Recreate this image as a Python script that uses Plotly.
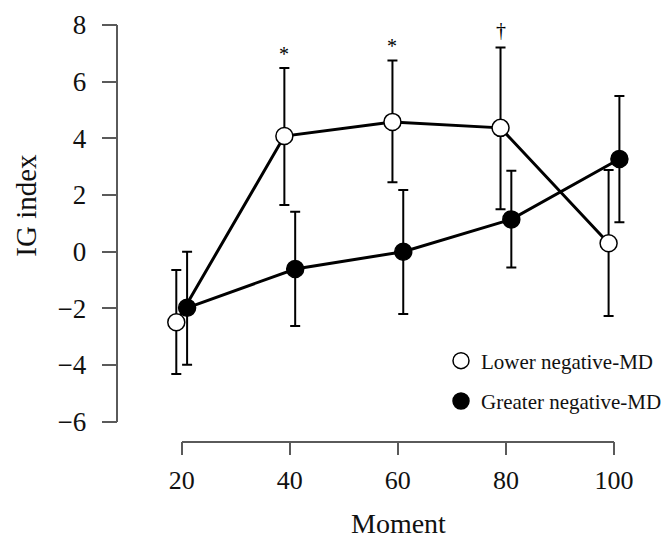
import plotly.graph_objects as go

# ---------------- data ----------------
moments = [20, 40, 60, 80, 100]

lower_mean = [-2.49, 4.08, 4.58, 4.37, 0.30]
lower_upper = [-0.65, 6.48, 6.75, 7.21, 2.88]
lower_lower = [-4.32, 1.65, 2.45, 1.50, -2.27]

greater_mean = [-1.98, -0.61, 0.00, 1.14, 3.27]
greater_upper = [0.00, 1.41, 2.18, 2.86, 5.49]
greater_lower = [-3.99, -2.62, -2.20, -0.56, 1.04]

sig_labels = ["", "*", "*", "\u2020", ""]

x_ticks = [20, 40, 60, 80, 100]
y_ticks = [-6, -4, -2, 0, 2, 4, 6, 8]

series_names = ["Lower negative-MD", "Greater negative-MD"]

# ---------------- geometry (pixels) ----------------
# The page has an 8 px body margin; the figure is sized to fill the window.
PAGE_OFF = 8
W, H = 670 - PAGE_OFF, 542 - PAGE_OFF
FONT = "Liberation Serif, Times New Roman, serif"
AX_COL = "#5a5a5a"
INK = "#111111"

def fx(px):  # window px -> paper x
    return (px - PAGE_OFF) / W

def fy(py):  # window px -> paper y
    return 1 - (py - PAGE_OFF) / H

# window targets: x 20 -> 181.7, 100 -> 614 ; y 8 -> 25, -6 -> 421.7
px_x20, px_x100 = 181.7, 614.0
px_y8, px_ym6 = 25.0, 421.7
x_scale = (px_x100 - px_x20) / 80.0
y_scale = (px_ym6 - px_y8) / 14.0
x_range = [20 - (px_x20 - PAGE_OFF) / x_scale, 20 + (670 - px_x20) / x_scale]
y_range = [8 - (542 - px_y8) / y_scale, 8 + (px_y8 - PAGE_OFF) / y_scale]

dodge = 1.0
x_low = [m - dodge for m in moments]
x_high = [m + dodge for m in moments]

fig = go.Figure()

def add_series(xs, mean, up, lo, fill, name):
    fig.add_trace(go.Scatter(
        x=xs, y=mean, mode="lines+markers", showlegend=False,
        line=dict(color="black", width=3),
        marker=dict(symbol="circle", size=17, color=fill,
                    line=dict(color="black", width=1.5)),
        error_y=dict(type="data", symmetric=False,
                     array=[u - m for u, m in zip(up, mean)],
                     arrayminus=[m - l for m, l in zip(mean, lo)],
                     color="black", thickness=2, width=5),
        cliponaxis=False,
    ))
    fig.add_trace(go.Scatter(
        x=[None], y=[None], mode="markers", name=name,
        legendgroup=name,
        marker=dict(symbol="circle", size=17, color=fill,
                    line=dict(color="black", width=1.5)),
    ))

add_series(x_low, lower_mean, lower_upper, lower_lower, "white", series_names[0])
add_series(x_high, greater_mean, greater_upper, greater_lower, "black", series_names[1])

# dummy trace for the visible (detached) axes
fig.add_trace(go.Scatter(x=[None], y=[None], xaxis="x2", yaxis="y2",
                         showlegend=False, hoverinfo="skip"))

# significance marks
sig_shift = {"*": 1, "\u2020": 4}
for xm, up, lab in zip(x_low, lower_upper, sig_labels):
    if lab:
        fig.add_annotation(x=xm, y=up, xref="x", yref="y", text=lab,
                           showarrow=False, yanchor="bottom",
                           yshift=sig_shift.get(lab, 0),
                           font=dict(family=FONT, size=20, color="black"))

# axis titles
fig.add_annotation(x=fx(26), y=fy(205.7), xref="paper", yref="paper",
                   text="IG index", textangle=-90, showarrow=False,
                   xanchor="center", yanchor="middle",
                   font=dict(family=FONT, size=29, color=INK))
fig.add_annotation(x=fx(398), y=fy(523), xref="paper", yref="paper",
                   text="Moment", showarrow=False,
                   xanchor="center", yanchor="middle",
                   font=dict(family=FONT, size=28, color=INK))

fig.update_layout(
    width=W, height=H,
    margin=dict(l=0, r=0, t=0, b=0, autoexpand=False),
    paper_bgcolor="white", plot_bgcolor="rgba(0,0,0,0)",
    font=dict(family=FONT, color=INK),
    xaxis=dict(domain=[0, 1], range=x_range, visible=False, fixedrange=True),
    yaxis=dict(domain=[0, 1], range=y_range, visible=False, fixedrange=True),
    xaxis2=dict(domain=[fx(px_x20), fx(px_x100)], range=[20, 100],
                anchor="free", position=fy(441.7),
                tickmode="array", tickvals=x_ticks,
                ticks="outside", ticklen=13, tickwidth=1.5, tickcolor=AX_COL,
                showline=True, linecolor=AX_COL, linewidth=1.5,
                showgrid=False, zeroline=False,
                tickfont=dict(family=FONT, size=26, color=INK),
                ticklabelstandoff=2),
    yaxis2=dict(domain=[fy(px_ym6), fy(px_y8)], range=[-6, 8],
                anchor="free", position=fx(117.3), side="left",
                tickmode="array", tickvals=y_ticks,
                ticks="outside", ticklen=15, tickwidth=1.5, tickcolor=AX_COL,
                showline=True, linecolor=AX_COL, linewidth=1.5,
                showgrid=False, zeroline=False,
                tickfont=dict(family=FONT, size=27, color=INK),
                ticklabelstandoff=10),
    legend=dict(x=fx(441), y=fy(340.5), xanchor="left", yanchor="top",
                bgcolor="rgba(0,0,0,0)", borderwidth=0,
                font=dict(family=FONT, size=21, color=INK),
                tracegroupgap=10, itemsizing="trace"),
    showlegend=True,
)

fig.write_html("out.html")
